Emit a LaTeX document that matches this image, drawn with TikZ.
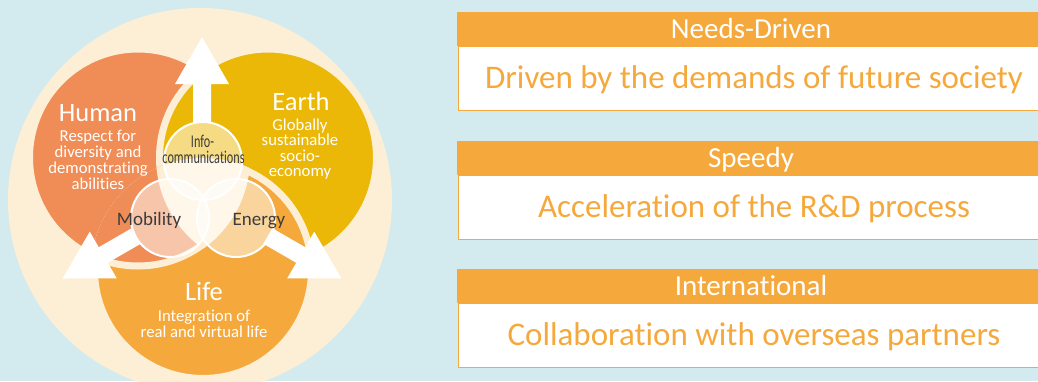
\documentclass[tikz,border=0pt]{standalone}
\usepackage{fontspec}
\setmainfont{Carlito}[Ligatures={NoCommon,NoContextual}]
\usepackage{graphicx}
\definecolor{bg}{HTML}{D3EBEE}
\definecolor{cream}{HTML}{FDEFD6}
\definecolor{human}{HTML}{F08C55}
\definecolor{earth}{HTML}{EBB808}
\definecolor{life}{HTML}{F5A93C}
\definecolor{boxor}{HTML}{F5A93C}
\definecolor{dark}{HTML}{3C3C3C}
\begin{document}
\begin{tikzpicture}[x=1pt,y=-1pt,
  bigc/.style={draw=cream, line width=7pt},
  smallc/.style={fill=white, fill opacity=0.5, draw=white, line width=2pt},
  arrowshape/.style={fill=white},
  title/.style={text=white, font=\fontsize{26.5}{28}\selectfont, inner sep=0pt, anchor=base},
  sub/.style={text=white, font=\fontsize{16.7}{16}\selectfont, inner sep=0pt, anchor=base},
  lab/.style={text=dark, font=\fontsize{19}{20}\selectfont, inner sep=0pt, anchor=base},
  clab/.style={text=dark, font=\fontsize{18}{19}\selectfont, inner sep=0pt, anchor=base},
  hdrbox/.style={fill=boxor, draw=none, minimum width=590pt, minimum height=34pt, anchor=north west, inner sep=0pt},
  bodybox/.style={fill=white, draw=boxor, line width=1pt, minimum width=590pt, minimum height=64pt, anchor=north west, inner sep=0pt},
  hdrtext/.style={text=white, font=\fontsize{29}{30}\selectfont, inner sep=0pt, anchor=base},
  bodytext/.style={text=boxor, font=\fontsize{33}{34}\selectfont, inner sep=0pt, anchor=base}
]
\useasboundingbox (0,0) rectangle (1038,381);
\clip (0,0) rectangle (1038,381);
\fill[bg] (0,0) rectangle (1038,381);
\fill[cream] (200,200) circle[radius=192pt];

\coordinate (H) at (138,157.5);
\coordinate (E) at (268,157.5);
\coordinate (L) at (203,270);

\filldraw[fill=human, bigc] (H) circle[radius=108.5pt];
\filldraw[fill=earth, bigc] (E) circle[radius=108.5pt];
\filldraw[fill=life, bigc] (L) circle[radius=108.5pt];
\begin{scope}
  \clip (L) circle[radius=112pt];
  \filldraw[fill=human, bigc] (H) circle[radius=108.5pt];
\end{scope}
\begin{scope}
  \clip (H) circle[radius=112pt];
  \clip (E) circle[radius=112pt];
  \fill[cream] (L) circle[radius=112pt];
\end{scope}

% arrows
\foreach \a in {0,120,-120}
  \fill[arrowshape, shift={(202,198)}, rotate=\a]
    (-9,-76) -- (-9,-114) -- (-27,-114) -- (0,-161) -- (27,-114) -- (9,-114) -- (9,-76) -- cycle;

% small circles
\coordinate (I) at (203,161);
\coordinate (M) at (170,218);
\coordinate (N) at (236,218);
\filldraw[smallc] (I) circle[radius=39pt];
\filldraw[smallc] (M) circle[radius=39pt];
\filldraw[smallc] (N) circle[radius=39pt];

% labels
\node[clab] (info1) at (202.5,147.5) {\scalebox{0.68}[1]{Info-}};
\node[clab] (info2) at (203.5,163.5) {\scalebox{0.68}[1]{communications}};
\node[lab] (mob) at (149,225) {Mobility};
\node[lab] (ene) at (259,225) {Energy};

\node[title] (human) at (98,121.7) {Human};
\node[sub] (h1) at (98,141.7) {Respect for};
\node[sub] (h2) at (98,157.5) {diversity and};
\node[sub] (h3) at (98,173.2) {demonstrating};
\node[sub] (h4) at (98,189) {abilities};

\node[title] (earth) at (301,110) {Earth};
\node[sub] (e1) at (300,130) {Globally};
\node[sub] (e2) at (300,145.6) {sustainable};
\node[sub] (e3) at (300,161.2) {socio-};
\node[sub] (e4) at (300,176.8) {economy};

\node[title] (life) at (204,300) {Life};
\node[sub] (l1) at (204,321.7) {Integration of};
\node[sub] (l2) at (204,337.3) {real and virtual life};

% right boxes
\node[bodybox] (b1) at (457.5,46) {};
\node[hdrbox] (t1) at (457,12) {};
\node[hdrtext] (t1t) at (751,38.3) {Needs-Driven};
\node[bodytext] (b1t) at (754,88.6) {Driven by the demands of future society};

\node[bodybox] (b2) at (457.5,175) {};
\node[hdrbox] (t2) at (457,140.5) {};
\node[hdrtext] (t2t) at (751,167) {Speedy};
\node[bodytext] (b2t) at (754,217.5) {Acceleration of the R\&D process};

\node[bodybox] (b3) at (457.5,303) {};
\node[hdrbox] (t3) at (457,269) {};
\node[hdrtext] (t3t) at (751,295.5) {International};
\node[bodytext] (b3t) at (754,345.5) {Collaboration with overseas partners};
\end{tikzpicture}
\end{document}
